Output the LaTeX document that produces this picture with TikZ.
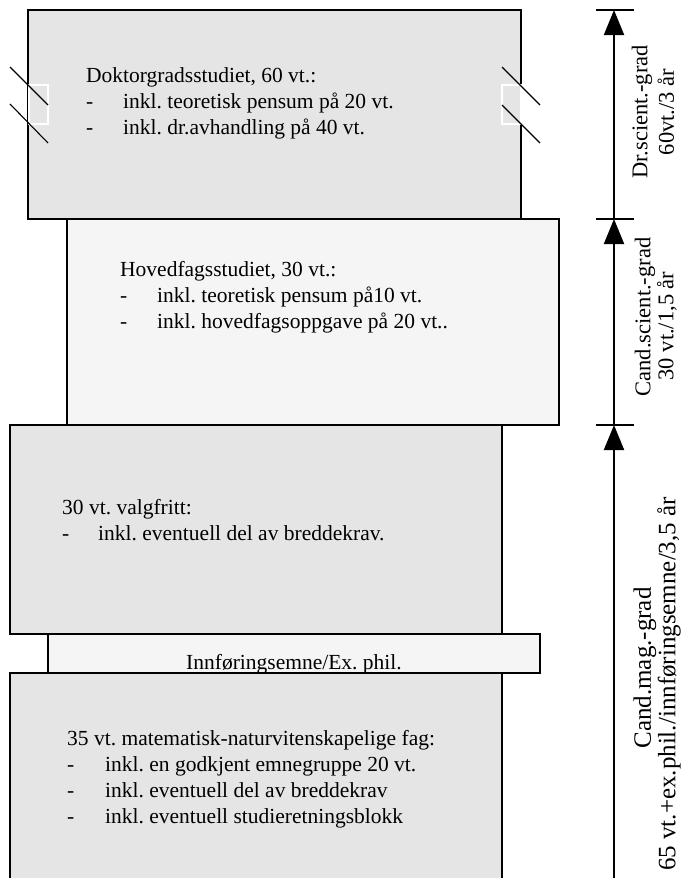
\documentclass[tikz,border=0pt]{standalone}
\usepackage{fontspec}
\setmainfont{Liberation Serif}
\usetikzlibrary{arrows.meta}
\definecolor{boxgray}{HTML}{E5E5E5}
\definecolor{boxlight}{HTML}{F5F5F5}
\frenchspacing
\begin{document}
\begin{tikzpicture}[x=1pt,y=-1pt,
  blk/.style={draw=black, line width=2.2pt, anchor=north west, inner sep=0pt, outer sep=0pt},
  gbox/.style={blk, fill=boxgray},
  lbox/.style={blk, fill=boxlight},
  txt/.style={anchor=base west, inner sep=0pt, font=\fontsize{21.5}{26}\selectfont},
  ctxt/.style={anchor=base, inner sep=0pt, font=\fontsize{21.5}{26}\selectfont},
  rtxt/.style={anchor=center, inner sep=0pt, rotate=90, font=\fontsize{22.5}{27}\selectfont},
  rbig/.style={rtxt, font=\fontsize{25}{30}\selectfont},
  mask/.style={draw=white, line width=1.5pt, fill=boxgray, anchor=north west, inner sep=0pt, outer sep=0pt, minimum width=19pt, minimum height=39pt},
  slash/.style={line width=1.1pt},
  axis/.style={line width=2pt},
  upar/.style={axis, -{Triangle[width=20pt,length=25pt]}},
  tick/.style={line width=2pt}
]
\useasboundingbox (0,0) rectangle (680,878);
\clip (0,0) rectangle (680,878);
% boxes
\node[gbox, minimum width=493pt, minimum height=209pt] (b1) at (28,10) {};
\node[lbox, minimum width=492pt, minimum height=206pt] (b2) at (67,219) {};
\node[gbox, minimum width=492pt, minimum height=209pt] (b3) at (10,425) {};
\node[lbox, minimum width=492pt, minimum height=39pt] (b4) at (48,634) {};
\node[gbox, minimum width=492pt, minimum height=227pt] (b5) at (10,673) {};
% break marks
\node[mask] (ml) at (29,85) {};
\node[mask] (mr) at (502,85) {};
\coordinate (la1) at (10,67); \coordinate (la2) at (48,105);
\coordinate (lb1) at (10,104); \coordinate (lb2) at (48,143);
\coordinate (ra1) at (502,67); \coordinate (ra2) at (540,105);
\coordinate (rb1) at (502,105); \coordinate (rb2) at (540,143);
\draw[slash] (la1) -- (la2);
\draw[slash] (lb1) -- (lb2);
\draw[slash] (ra1) -- (ra2);
\draw[slash] (rb1) -- (rb2);
% texts
\newcommand{\dsh}{\makebox[37pt][l]{-}}
\node[txt] (t1a) at (86,82) {Doktorgradsstudiet, 60 vt.:};
\node[txt] (t1b) at (86,108) {\dsh inkl. teoretisk pensum på 20 vt.};
\node[txt] (t1c) at (86,134) {\dsh inkl. dr.avhandling på 40 vt.};
\node[txt] (t2a) at (120,276) {Hovedfagsstudiet, 30 vt.:};
\node[txt] (t2b) at (120,302) {\dsh inkl. teoretisk pensum på10 vt.};
\node[txt] (t2c) at (120,328) {\dsh inkl. hovedfagsoppgave på 20 vt..};
\node[txt] (t3a) at (62,514) {30 vt. valgfritt:};
\node[txt] (t3b) at (62,540) {\makebox[36pt][l]{-}inkl. eventuell del av breddekrav.};
\node[ctxt] (t4) at (294,669) {Innføringsemne/Ex. phil.};
\node[txt] (t5a) at (67,745) {35 vt. matematisk-naturvitenskapelige fag:};
\node[txt] (t5b) at (67,771) {\makebox[38pt][l]{-}inkl. en godkjent emnegruppe 20 vt.};
\node[txt] (t5c) at (67,797) {\makebox[38pt][l]{-}inkl. eventuell del av breddekrav};
\node[txt] (t5d) at (67,823) {\makebox[38pt][l]{-}inkl. eventuell studieretningsblokk};
% axis
\coordinate (p0) at (614,10);
\coordinate (p1) at (614,219);
\coordinate (p2) at (614,425);
\coordinate (p3) at (614,880);
\coordinate (k0l) at (596,10); \coordinate (k0r) at (634,10);
\coordinate (k1l) at (596,219); \coordinate (k1r) at (634,219);
\coordinate (k2l) at (596,425); \coordinate (k2r) at (634,425);
\draw[tick] (k0l) -- (k0r);
\draw[tick] (k1l) -- (k1r);
\draw[tick] (k2l) -- (k2r);
\draw[upar] (p1) -- (p0);
\draw[upar] (p2) -- (p1);
\draw[upar] (p3) -- (p2);
% right labels
\node[rtxt] (r1a) at (642,112) {Dr.scient.-grad};
\node[rtxt] (r1b) at (666,112) {60vt./3 år};
\node[rtxt] (r2a) at (645,317) {Cand.scient.-grad};
\node[rtxt] (r2b) at (667,326) {30 vt./1,5 år};
\node[rbig] (r3a) at (645,668) {Cand.mag.-grad};
\node[rbig] (r3b) at (669,684) {65 vt.+ex.phil./innføringsemne/3,5 år};
\end{tikzpicture}
\end{document}
